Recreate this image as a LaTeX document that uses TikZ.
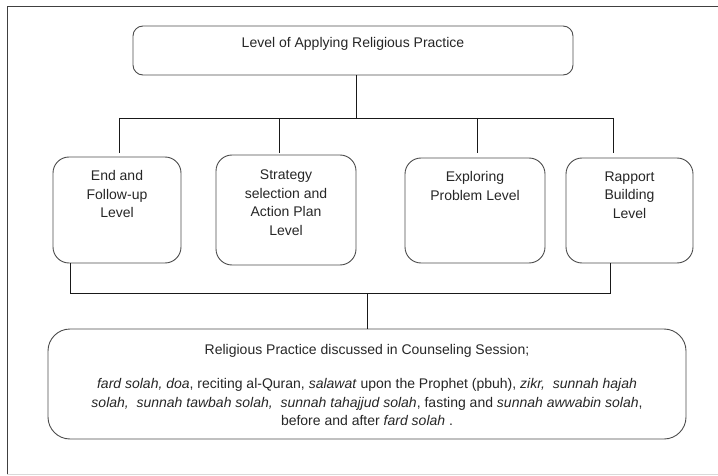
\documentclass[tikz,border=0pt]{standalone}
\usepackage{fontspec}
\setmainfont{Liberation Sans}
\usetikzlibrary{positioning}

\begin{document}
\begin{tikzpicture}[
    x=1pt, y=-1pt,
    font=\fontsize{14}{18.5}\selectfont,
    stagebox/.style={draw=black!70, line width=0.9pt, rounded corners=16pt, inner sep=0pt},
    txt/.style={inner sep=0pt, align=center, text=black!85},
    link/.style={line width=0.9pt, black!90}
  ]
  \useasboundingbox (0,0) rectangle (718,476);
  % Frame
  \draw[black!75, line width=1pt] (718,7) -- (7,7) -- (7,474);
  \draw[black!15, line width=1pt] (7,474) -- (718,474);

  % Top level
  \node[stagebox, rounded corners=10pt, minimum width=440pt, minimum height=49pt] (apply) at (353,50.5) {};
  \node[txt, below=12pt of apply.north] (applytxt) {Level of Applying Religious Practice};

  % Counseling stages
  \node[stagebox, minimum width=128pt, minimum height=106pt] (follow) at (117,210) {};
  \node[txt, below=14pt of follow.north] (followtxt) {End and\\Follow-up\\Level};
  \node[stagebox, minimum width=140pt, minimum height=110pt] (strategy) at (286,210) {};
  \node[txt, below=15pt of strategy.north] (strategytxt) {Strategy\\selection and\\Action Plan\\Level};
  \node[stagebox, minimum width=140pt, minimum height=105pt] (explore) at (475,210.5) {};
  \node[txt, below=14pt of explore.north] (exploretxt) {Exploring\\Problem Level};
  \node[stagebox, minimum width=127pt, minimum height=105pt] (rapport) at (629.5,210.5) {};
  \node[txt, below=14pt of rapport.north] (rapporttxt) {Rapport\\Building\\Level};

  % Practices discussed
  \node[stagebox, rounded corners=22pt, minimum width=638pt, minimum height=110pt] (practice) at (367,384) {};
  \node[txt, below=16pt of practice.north] (practicetxt) {Religious Practice discussed in Counseling Session;\\[15.5pt]
    \textit{fard solah, doa}, reciting al-Quran, \textit{salawat} upon the Prophet (pbuh), \textit{zikr,\ \ sunnah hajah}\\
    \textit{solah,\ \ sunnah tawbah solah,\ \ sunnah tahajjud solah}, fasting and \textit{sunnah awwabin solah},\\
    before and after \textit{fard solah} .};

  % Upper connectors
  \coordinate (hub) at (356,118);
  \coordinate (busL) at (119,118);
  \coordinate (busS) at (279,118);
  \coordinate (busE) at (477,118);
  \coordinate (busR) at (613,118);
  \draw[link] (apply.south -| hub) -- (hub);
  \draw[link] (busL) -- (busR);
  \draw[link, shorten >=4pt] (busL) -- (busL |- follow.north);
  \draw[link, shorten >=2pt] (busS) -- (busS |- strategy.north);
  \draw[link, shorten >=5pt] (busE) -- (busE |- explore.north);
  \draw[link, shorten >=5pt] (busR) -- (busR |- rapport.north);

  % Lower connectors
  \coordinate (joinL) at (70,293);
  \coordinate (joinR) at (610,293);
  \draw[link] (follow.south -| joinL) -- (joinL) -- (joinR) -- (rapport.south -| joinR);
  \draw[link] (practice.north |- joinL) -- (practice.north);

\end{tikzpicture}
\end{document}
